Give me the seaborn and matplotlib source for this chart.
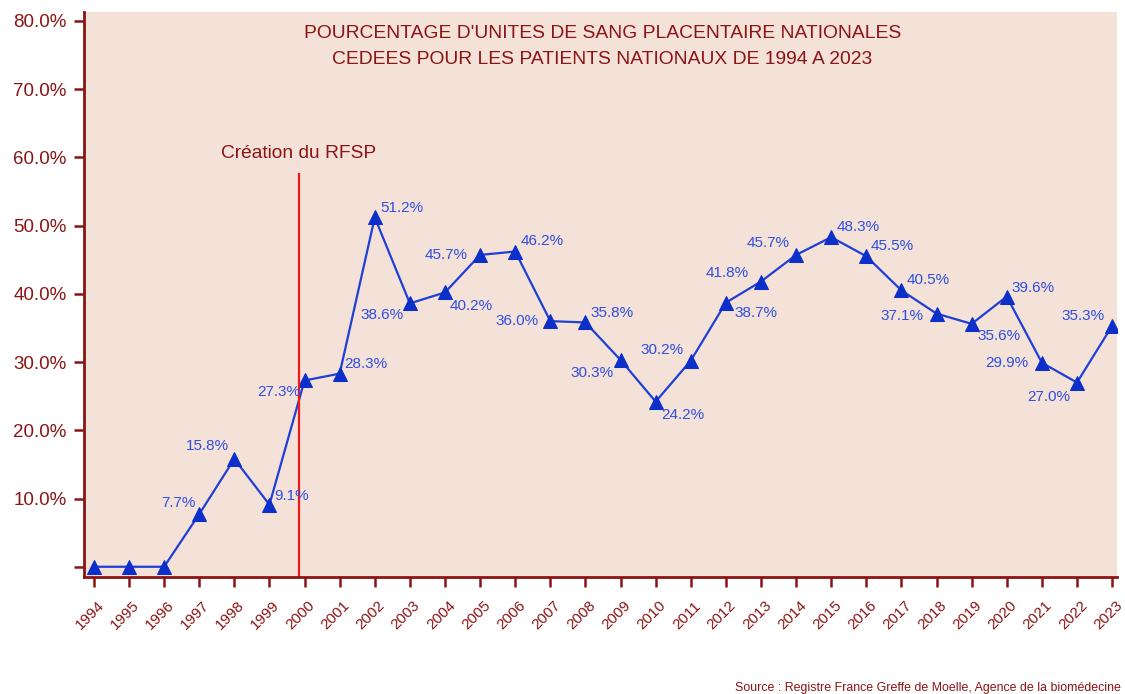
import matplotlib
matplotlib.use("Agg")
import matplotlib.pyplot as plt
import matplotlib.transforms as mtransforms
import numpy as np
import pandas as pd
import seaborn as sns

# Data
years = list(range(1994, 2024))
percent = [0.0, 0.0, 0.0, 7.7, 15.8, 9.1, 27.3, 28.3, 51.2, 38.6,
           40.2, 45.7, 46.2, 36.0, 35.8, 30.3, 24.2, 30.2, 38.7, 41.8,
           45.7, 48.3, 45.5, 40.5, 37.1, 35.6, 39.6, 29.9, 27.0, 35.3]
show_label = [False, False, False] + [True] * 27
y_ticks = [0, 10, 20, 30, 40, 50, 60, 70, 80]
y_tick_labels = [""] + [f"{v:.1f}%" for v in y_ticks[1:]]
rfsp_year = 1999.84
rfsp_top = 57.7

title = ("POURCENTAGE D'UNITES DE SANG PLACENTAIRE NATIONALES\n"
         "CEDEES POUR LES PATIENTS NATIONAUX DE 1994 A 2023")
source = "Source : Registre France Greffe de Moelle, Agence de la biomédecine"

# label placement: (dx px, dy px, ha)
label_pos = [None, None, None,
             (-4, 11, "right"), (-5, 13, "right"), (5, 9, "left"),
             (-4, -12, "right"), (5, 10, "left"), (6, 9, "left"),
             (-6, -12, "right"), (5, -14, "left"), (-12, 0, "right"),
             (5, 11, "left"), (-12, 0, "right"), (5, 9, "left"),
             (-7, -13, "right"), (6, -13, "left"), (-7, 11, "right"),
             (9, -10, "left"), (-12, 9, "right"), (-6, 12, "right"),
             (5, 10, "left"), (4, 10, "left"), (5, 10, "left"),
             (-13, -2, "right"), (6, -12, "left"), (5, 9, "left"),
             (-13, 0, "right"), (-7, -14, "right"), (-8, 10, "right")]

df = pd.DataFrame({"year": years, "pct": percent})

dark_red = "#8B1414"
line_blue = "#1F3FD6"
marker_blue = "#0B2FC8"
label_blue = "#2E4FE0"

sns.set_style("white")
plt.rcParams["font.family"] = ["Liberation Sans", "DejaVu Sans"]

fig = plt.figure(figsize=(11.25, 6.94), dpi=100)
ax = fig.add_axes([0.0747, 0.1686, 0.9182, 0.8141])
ax.set_facecolor("#F4E1D8")

sns.lineplot(data=df, x="year", y="pct", ax=ax, color=line_blue, linewidth=1.6,
             marker="^", markersize=10, markerfacecolor=marker_blue,
             markeredgecolor=marker_blue)

for yr, v, show, pos in zip(years, percent, show_label, label_pos):
    if not show:
        continue
    dx, dy, ha = pos
    ax.annotate(f"{v:.1f}%", (yr, v), xytext=(dx, dy), textcoords="offset pixels",
                ha=ha, va="center", fontsize=11, color=label_blue)

ax.vlines(rfsp_year, -1.5, rfsp_top, color="#F01818", linewidth=1.6)
ax.text(rfsp_year, rfsp_top + 2.9, "Création du RFSP", ha="center", va="center",
        fontsize=13.8, color=dark_red)

ax.set_xlim(1993.72, 2023.14)
ax.set_ylim(-1.5, 81.3)
ax.set_xticks(years)
ax.set_xticklabels([str(y) for y in years], rotation=45, ha="center",
                   fontsize=11, color=dark_red)
ax.set_yticks(y_ticks)
ax.set_yticklabels(y_tick_labels, fontsize=13.5, color=dark_red)
ax.tick_params(axis="both", direction="out", length=7.5, width=1.8,
               color=dark_red, bottom=True, left=True)
ax.tick_params(axis="x", pad=8)
ax.tick_params(axis="y", pad=5)
ax.set_xlabel("")
ax.set_ylabel("")

# nudge the rotated year labels a little to the left, as in the source chart
shift = mtransforms.ScaledTranslation(-4 / 100, 0, fig.dpi_scale_trans)
for lab in ax.get_xticklabels():
    lab.set_transform(lab.get_transform() + shift)

for side in ["top", "right"]:
    ax.spines[side].set_visible(False)
for side in ["left", "bottom"]:
    ax.spines[side].set_color(dark_red)
    ax.spines[side].set_linewidth(2)

ax.text(0.502, 0.939, title, transform=ax.transAxes, ha="center", va="center",
        fontsize=13.9, color=dark_red, linespacing=1.75)
fig.text(0.996, 0.0086, source, ha="right", va="center", fontsize=8.9, color=dark_red)

plt.savefig("out.png", dpi=100, facecolor="white")
